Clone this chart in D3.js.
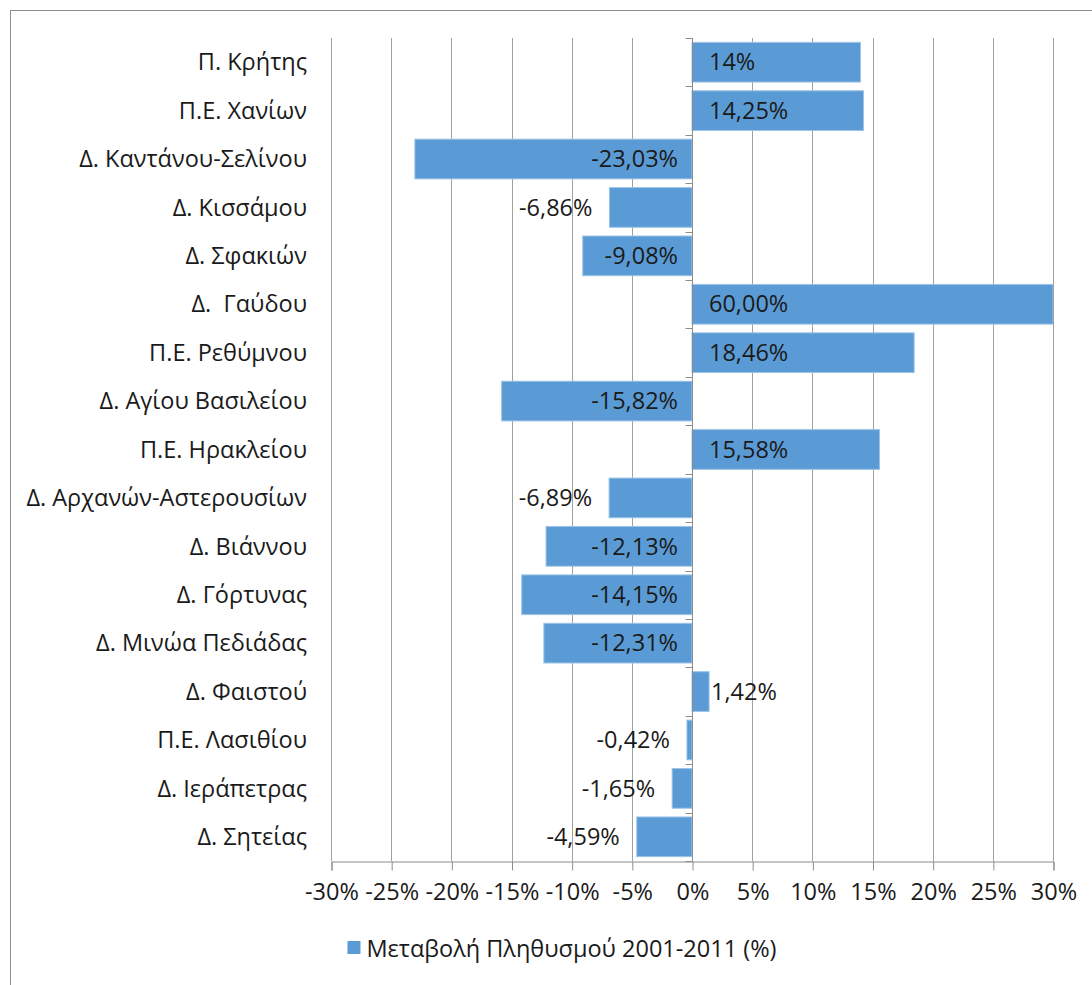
<!DOCTYPE html>
<html>
<head>
<meta charset="utf-8">
<script src="https://cdn.jsdelivr.net/npm/d3@7"></script>
<style>
  html, body { margin: 0; padding: 0; background: #fff; }
  svg { display: block; }
  text { font-family: "Open Sans", "Noto Sans", sans-serif; fill: #1a1a1a; }
</style>
</head>
<body>
<svg id="chart" width="1092" height="985"></svg>
<script>
// Population change 2001-2011 for Crete and its municipalities
const categories = [
  "Π. Κρήτης", "Π.Ε. Χανίων", "Δ. Καντάνου-Σελίνου", "Δ. Κισσάμου", "Δ. Σφακιών",
  "Δ.  Γαύδου", "Π.Ε. Ρεθύμνου", "Δ. Αγίου Βασιλείου", "Π.Ε. Ηρακλείου",
  "Δ. Αρχανών-Αστερουσίων", "Δ. Βιάννου", "Δ. Γόρτυνας", "Δ. Μινώα Πεδιάδας",
  "Δ. Φαιστού", "Π.Ε. Λασιθίου", "Δ. Ιεράπετρας", "Δ. Σητείας"
];
const values = [14, 14.25, -23.03, -6.86, -9.08, 60.00, 18.46, -15.82, 15.58,
  -6.89, -12.13, -14.15, -12.31, 1.42, -0.42, -1.65, -4.59];
const valueLabels = ["14%", "14,25%", "-23,03%", "-6,86%", "-9,08%", "60,00%", "18,46%",
  "-15,82%", "15,58%", "-6,89%", "-12,13%", "-14,15%", "-12,31%", "1,42%", "-0,42%",
  "-1,65%", "-4,59%"];
const tickValues = [-30, -25, -20, -15, -10, -5, 0, 5, 10, 15, 20, 25, 30];
const seriesName = "Μεταβολή Πληθυσμού 2001-2011 (%)";

const barColor = "#5b9bd5";
const gridColor = "#a0a0a0";
const axisColor = "#8c8c8c";
const fontSize = 23.5;

const svg = d3.select("#chart");
const margin = { left: 331, right: 1092 - 1053, top: 38, bottom: 985 - 861 };
const width = 1092, height = 985;

// outer chart frame
svg.append("rect")
  .attr("x", 10.5).attr("y", 10.5)
  .attr("width", 1100).attr("height", 1000)
  .attr("fill", "none").attr("stroke", "#8c8c8c").attr("stroke-width", 1);

const x = d3.scaleLinear().domain([-30, 30]).range([margin.left, width - margin.right]);
const y = d3.scaleBand().domain(categories).range([margin.top, height - margin.bottom])
  .paddingInner(0.18).paddingOuter(0.09);

// vertical gridlines
svg.append("g").selectAll("line").data(tickValues).join("line")
  .attr("x1", d => Math.round(x(d)) + 0.5).attr("x2", d => Math.round(x(d)) + 0.5)
  .attr("y1", margin.top).attr("y2", height - margin.bottom)
  .attr("stroke", gridColor).attr("stroke-width", 1);

// bottom value axis
const xAxis = svg.append("g")
  .attr("transform", `translate(0.5,${height - margin.bottom + 0.5})`)
  .call(d3.axisBottom(x).tickValues(tickValues).tickFormat(d => d + "%").tickSize(9).tickPadding(13));
xAxis.select(".domain").attr("stroke", axisColor);
xAxis.selectAll(".tick line").attr("stroke", axisColor);
xAxis.selectAll("text").style("font-size", fontSize + "px")
  .style("font-family", '"Open Sans", "Noto Sans", sans-serif').attr("fill", "#1a1a1a");

// clip region for bars exceeding the axis range
svg.append("clipPath").attr("id", "plotClip")
  .append("rect").attr("x", margin.left).attr("y", margin.top)
  .attr("width", width - margin.right - margin.left)
  .attr("height", height - margin.bottom - margin.top);

// bars
const clampV = v => Math.max(-30, Math.min(30, v));
svg.append("g").attr("clip-path", "url(#plotClip)")
  .selectAll("rect").data(values).join("rect")
  .attr("x", d => x(Math.min(0, clampV(d))))
  .attr("y", (d, i) => y(categories[i]))
  .attr("width", d => Math.abs(x(clampV(d)) - x(0)))
  .attr("height", y.bandwidth())
  .attr("fill", barColor)
  .attr("stroke", "#9dc3e6").attr("stroke-width", 1);

// category axis at zero
const yAxis = svg.append("g")
  .attr("transform", `translate(${Math.round(x(0)) + 0.5},0)`);
yAxis.append("line")
  .attr("y1", margin.top).attr("y2", height - margin.bottom)
  .attr("stroke", axisColor);
const bounds = categories.map(c => y(c) - y.step() * y.paddingInner() / 2);
bounds.push(height - margin.bottom);
yAxis.selectAll("line.tk").data(bounds).join("line").attr("class", "tk")
  .attr("x1", -7).attr("x2", 0)
  .attr("y1", d => Math.round(d) + 0.5).attr("y2", d => Math.round(d) + 0.5)
  .attr("stroke", axisColor);

// category labels on the left
svg.append("g").selectAll("text").data(categories).join("text")
  .attr("x", 307)
  .attr("y", d => y(d) + y.bandwidth() / 2)
  .attr("dy", "0.35em")
  .attr("text-anchor", "end")
  .style("font-size", fontSize + "px")
  .style("white-space", "pre")
  .text(d => d);

// value labels: inside the base when they fit, otherwise outside the bar end
const lbl = svg.append("g").selectAll("text").data(values).join("text")
  .attr("y", (d, i) => y(categories[i]) + y.bandwidth() / 2)
  .attr("dy", "0.35em")
  .style("font-size", fontSize + "px")
  .text((d, i) => valueLabels[i]);
lbl.each(function (d) {
  const t = d3.select(this);
  const w = this.getComputedTextLength();
  const barW = Math.abs(x(clampV(d)) - x(0));
  const fits = w + 28 <= barW;
  if (d >= 0) {
    t.attr("text-anchor", "start")
     .attr("x", fits ? x(0) + 17 : x(clampV(d)) + 2);
  } else {
    t.attr("text-anchor", "end")
     .attr("x", fits ? x(0) - 14 : x(clampV(d)) - 17);
  }
});

// legend
const legend = svg.append("g");
const legendText = legend.append("text")
  .attr("y", 949).attr("dy", "0.35em")
  .style("font-size", fontSize + "px")
  .text(seriesName);
const lw = legendText.node().getComputedTextLength();
const legendX = 562 - (lw + 19) / 2;
legend.append("rect")
  .attr("x", legendX).attr("y", 941).attr("width", 13).attr("height", 13)
  .attr("fill", barColor);
legendText.attr("x", legendX + 19);
</script>
</body>
</html>
